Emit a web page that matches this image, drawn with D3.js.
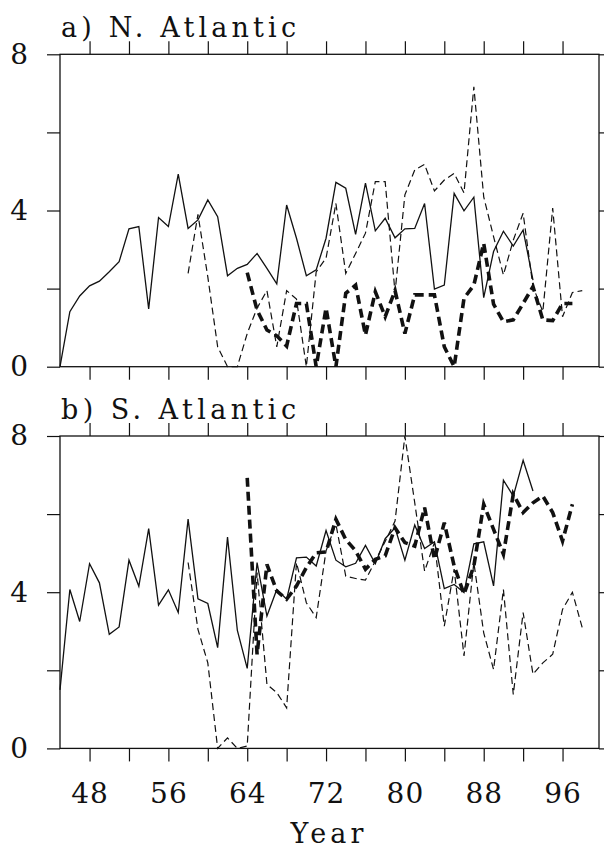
<!DOCTYPE html>
<html>
<head>
<meta charset="utf-8">
<script src="https://cdn.jsdelivr.net/npm/d3@7"></script>
<style>
  body { margin: 0; background: #fff; }
</style>
</head>
<body>
<svg id="chart" width="604" height="850"></svg>
<script>
// axis ticks / labels
const yearTicks = [48, 52, 56, 60, 64, 68, 72, 76, 80, 84, 88, 92, 96];
const yearLabels = [48, 56, 64, 72, 80, 88, 96];
const valueTicks = [0, 2, 4, 6, 8];
const valueLabels = [0, 4, 8];

// a) N. Atlantic
const naSolidStart = 45;
const naSolid = [0, 1.41, 1.81, 2.07, 2.19, 2.43, 2.69, 3.53, 3.59, 1.48,
    3.82, 3.59, 4.93, 3.54, 3.76, 4.27, 3.84, 2.33, 2.52, 2.62,
    2.9, 2.52, 2.12, 4.14, 3.29, 2.33, 2.48, 3.29, 4.72, 4.57,
    3.39, 4.7, 3.48, 3.8, 3.3, 3.53, 3.54, 4.18, 1.99, 2.09,
    4.44, 3.99, 4.34, 1.77, 2.95, 3.47, 3.09, 3.5, 2.22];
const naThinStart = 58;
const naThin = [2.39, 3.9, 2.3, 0.51, 0, 0, 0.85, 1.5, 1.95, 0.51,
    1.95, 1.73, 0, 2.43, 2.78, 4.18, 2.39, 2.9, 3.42, 4.74,
    4.74, 1.9, 4.4, 5.04, 5.18, 4.5, 4.78, 4.95, 4.45, 7.17,
    4.35, 3.33, 2.35, 3.24, 3.93, 2.05, 1.41, 4.06, 1.28, 1.9, 1.95];
const naThickStart = 64;
const naThick = [2.41, 1.45, 0.94, 0.79, 0.53, 1.62, 1.62, 0, 1.5, 0,
    1.88, 2.09, 0.81, 1.92, 1.28, 1.95, 0.85, 1.84, 1.84, 1.84,
    0.51, 0, 1.75, 2.09, 3.16, 1.6, 1.15, 1.2, 1.62, 2.05,
    1.2, 1.18, 1.62, 1.62];

// b) S. Atlantic
const saSolidStart = 45;
const saSolid = [1.5, 4.07, 3.25, 4.73, 4.24, 2.92, 3.11, 4.82, 4.15, 5.63,
    3.67, 4.06, 3.48, 5.87, 3.83, 3.71, 2.58, 5.41, 3.02, 2.05,
    4.76, 3.39, 4.07, 3.82, 4.88, 4.9, 4.67, 5.58, 4.82, 4.65,
    4.74, 5.2, 4.73, 5.37, 5.65, 4.82, 5.72, 5.12, 5.29, 4.09,
    4.2, 3.99, 5.24, 5.29, 4.16, 6.87, 6.46, 7.38, 6.59];
const saThinStart = 58;
const saThin = [4.76, 3.05, 2.19, 0, 0.27, 0, 0.06, 4.5, 1.64, 1.43,
    1.04, 4.76, 3.73, 3.35, 5.06, 5.74, 4.41, 4.35, 4.31, 4.8,
    5.3, 5.82, 8.0, 6.29, 4.54, 5.27, 3.13, 4.59, 2.37, 4.76,
    2.96, 2.02, 4.07, 1.38, 3.48, 1.9, 2.19, 2.41, 3.56, 4.0, 3.09];
const saThickStart = 64;
const saThick = [6.93, 2.41, 4.71, 4.03, 3.82, 4.16, 4.63, 5.01, 5.03, 5.87,
    5.35, 5.06, 4.59, 4.84, 4.93, 5.65, 5.27, 5.18, 6.17, 4.84,
    5.78, 4.67, 3.95, 4.67, 6.25, 5.61, 4.97, 6.51, 6.04, 6.29,
    6.46, 6.04, 5.31, 6.25];

const FONT = "DejaVu Serif, Liberation Serif, Times New Roman, serif";
const left = 60, right = 599, panelH = 312.4;
const svg = d3.select("#chart");
const x = d3.scaleLinear().domain([45, 99.7]).range([left, right]);

// turn a start year + values into points
function series(start, vals) {
    return vals.map((v, i) => ({ year: start + i, v: v }));
}

const styles = {
    solid: { width: 1.3, dash: null },
    thin: { width: 1.2, dash: "7,4" },
    thick: { width: 3.6, dash: "9,5" }
};

function drawPanel(title, top, lines, showYears) {
    let bottom = top + panelH;
    let y = d3.scaleLinear().domain([0, 8]).range([bottom, top]);
    let g = svg.append("g");

    // axes, ticks pointing outward
    let fmtYear = d => yearLabels.includes(d) ? d : "";
    let fmtVal = d => valueLabels.includes(d) ? d : "";

    g.append("g").attr("transform", "translate(0," + bottom + ")")
        .call(d3.axisBottom(x).tickValues(yearTicks).tickSize(13).tickPadding(22)
            .tickFormat(showYears ? fmtYear : ""));
    g.append("g").attr("transform", "translate(0," + top + ")")
        .call(d3.axisTop(x).tickValues(yearTicks).tickSize(13).tickFormat(""));
    g.append("g").attr("transform", "translate(" + left + ",0)")
        .call(d3.axisLeft(y).tickValues(valueTicks).tickSize(13).tickPadding(18).tickFormat(fmtVal));
    g.append("g").attr("transform", "translate(" + right + ",0)")
        .call(d3.axisRight(y).tickValues(valueTicks).tickSize(13).tickFormat(""));

    g.selectAll(".domain").remove();
    g.selectAll("g").attr("font-family", FONT);
    g.selectAll(".tick line").attr("stroke", "#111").attr("stroke-width", 1.2);
    g.selectAll(".tick text").attr("font-size", 28).attr("fill", "#111")
        .attr("font-family", FONT).attr("font-weight", 300).attr("letter-spacing", 1);

    g.append("rect")
        .attr("x", left).attr("y", top)
        .attr("width", right - left).attr("height", panelH)
        .attr("fill", "none").attr("stroke", "#111").attr("stroke-width", 1.3);

    let line = d3.line().x(d => x(d.year)).y(d => y(d.v));
    lines.forEach(function (l) {
        let st = styles[l.style];
        g.append("path")
            .datum(series(l.start, l.vals))
            .attr("d", line)
            .attr("fill", "none")
            .attr("stroke", "#111")
            .attr("stroke-width", st.width)
            .attr("stroke-dasharray", st.dash)
            .attr("stroke-linejoin", "miter");
    });

    g.append("text")
        .attr("x", 61).attr("y", top - 17)
        .attr("font-family", FONT)
        .attr("font-size", 27)
        .attr("fill", "#111")
        .attr("textLength", 235)
        .attr("lengthAdjust", "spacing")
        .text(title);
}

drawPanel("a) N. Atlantic", 54.3, [
    { start: naSolidStart, vals: naSolid, style: "solid" },
    { start: naThinStart, vals: naThin, style: "thin" },
    { start: naThickStart, vals: naThick, style: "thick" }
], false);

drawPanel("b) S. Atlantic", 436, [
    { start: saSolidStart, vals: saSolid, style: "solid" },
    { start: saThinStart, vals: saThin, style: "thin" },
    { start: saThickStart, vals: saThick, style: "thick" }
], true);

svg.append("text")
    .attr("x", 327).attr("y", 843)
    .attr("text-anchor", "middle")
    .attr("font-family", FONT)
    .attr("font-size", 27)
    .attr("fill", "#111")
    .attr("textLength", 73)
    .attr("lengthAdjust", "spacing")
    .text("Year");
</script>
</body>
</html>
